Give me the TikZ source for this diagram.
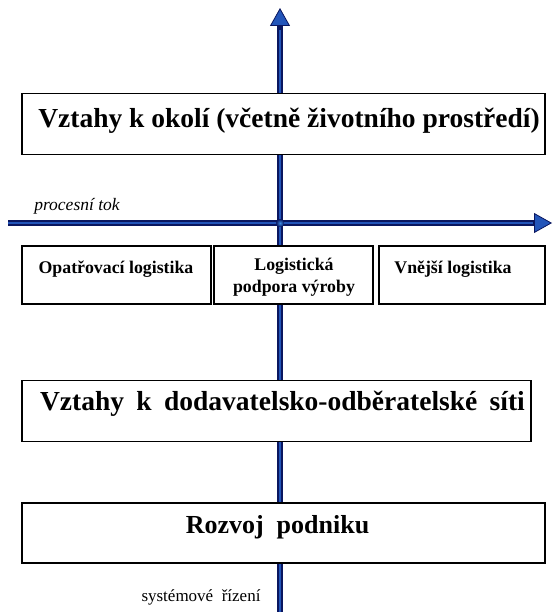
\documentclass[tikz,border=0pt]{standalone}
\usepackage{fontspec}
\setmainfont{Liberation Serif}
\newfontfamily\widespaced[WordSpace=1.8]{Liberation Serif}
\usetikzlibrary{arrows.meta}
\definecolor{axisnavy}{RGB}{10,22,95}
\definecolor{axisblue}{RGB}{35,85,185}
\definecolor{axislight}{RGB}{60,140,230}
\begin{document}
\begin{tikzpicture}[x=1pt,y=-1pt,
  box/.style={draw=black, line width=1.2pt, fill=white, inner sep=0pt},
  axisline/.style={line width=6pt, draw=axisnavy,
    -{Triangle[width=20pt,length=18pt,fill=axisblue,color=axisnavy,line width=0.8pt]}},
  axiscore/.style={line width=1.6pt, draw=axisblue},
  bigtext/.style={font=\fontsize{27.5}{30}\selectfont\bfseries, inner sep=0pt},
  midtext/.style={font=\fontsize{17.8}{22}\selectfont\bfseries, inner sep=0pt, align=center},
  smalltext/.style={font=\fontsize{17}{20}\selectfont, inner sep=0pt},
  flowtext/.style={font=\fontsize{17.5}{20}\selectfont\itshape, inner sep=0pt}
]
\useasboundingbox (0,0) rectangle (552,612);

% axes: system management (vertical) and process flow (horizontal)
\coordinate (vbot) at (280,612);
\coordinate (vtop) at (280,8);
\coordinate (hleft) at (8,223);
\coordinate (hright) at (552,223);
\coordinate (vcore) at (280,30);
\coordinate (hcore) at (533,223);
\coordinate (cross) at (280,223);
\draw[axisline] (vbot) -- (vtop);
\draw[axiscore] (vbot) -- (vcore);
\draw[axisline] (hleft) -- (hright);
\draw[axiscore] (hleft) -- (hcore);
\shade[inner color=axislight, outer color=axisnavy] (cross) circle (4);

% boxes
\node[box, minimum width=523pt, minimum height=61pt] (okoli) at (283.5,124) {};
\node[box, minimum width=189pt, minimum height=58pt] (opatr) at (116.5,275) {};
\node[box, minimum width=159pt, minimum height=58pt] (podpora) at (293.5,275) {};
\node[box, minimum width=166pt, minimum height=58pt] (vnejsi) at (462,275) {};
\node[box, minimum width=509pt, minimum height=61pt] (dodav) at (276.5,411) {};
\node[box, minimum width=523pt, minimum height=60pt] (rozvoj) at (283.5,533) {};

% texts
\node[bigtext] (okoliT) at (289,121) {Vztahy k okolí (včetně životního prostředí)};
\node[bigtext, font=\widespaced\fontsize{27.5}{30}\selectfont\bfseries] (dodavT) at (282.5,404) {Vztahy k dodavatelsko-odběratelské síti};
\node[bigtext, font=\fontsize{26}{28}\selectfont\bfseries] (rozvojT) at (277.5,527) {Rozvoj\ \ podniku};
\node[midtext] (opatrT) at (116,269) {Opatřovací logistika};
\node[midtext] (podporaT) at (294,277) {Logistická\\podpora výroby};
\node[midtext] (vnejsiT) at (453,269) {Vnější logistika};
\node[flowtext] (procesT) at (77,206) {procesní tok};
\node[smalltext] (rizeniT) at (201,597) {systémové\ \ řízení};
\end{tikzpicture}
\end{document}
